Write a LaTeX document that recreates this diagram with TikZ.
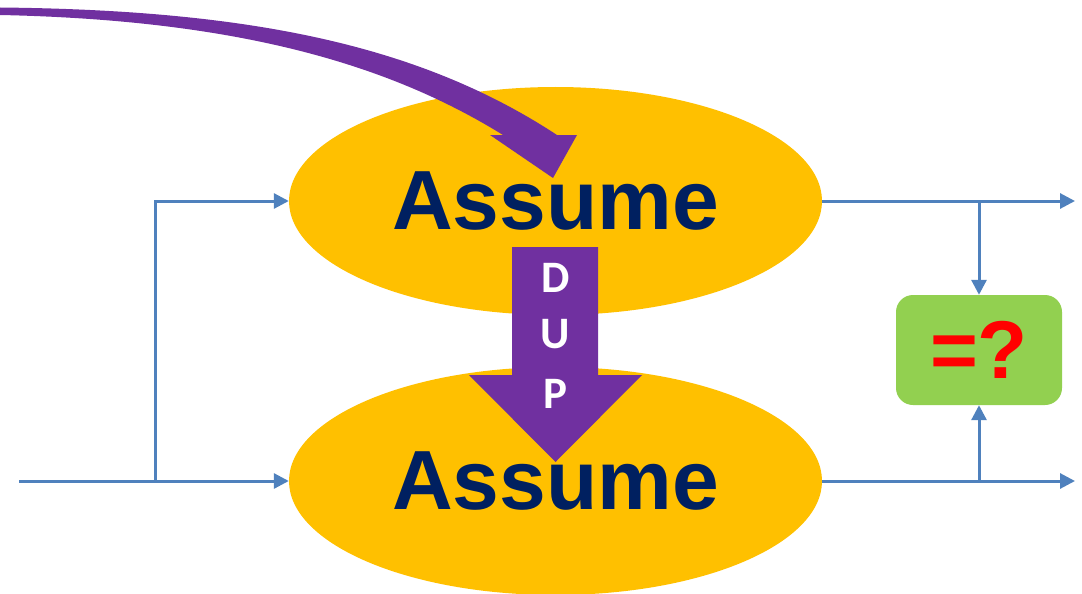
\documentclass[tikz,border=0pt]{standalone}
\usepackage{fontspec}
\setmainfont{Liberation Sans}
\newfontfamily\dupfont{Carlito}
\usetikzlibrary{shapes.geometric,arrows.meta}

\definecolor{ellgold}{HTML}{FFC000}
\definecolor{purp}{HTML}{7030A0}
\definecolor{navy}{HTML}{002060}
\definecolor{wireblue}{HTML}{4F81BD}
\definecolor{boxgreen}{HTML}{92D050}
\definecolor{qred}{HTML}{FF0000}

\tikzset{
  assumption/.style={ellipse, fill=ellgold, minimum width=533pt, minimum height=228pt,
    inner sep=0pt, text=navy, font=\fontsize{84}{84}\selectfont\bfseries},
  wire/.style={draw=wireblue, line width=3pt, -{Triangle[length=15pt,width=15pt]}},
  compare/.style={rectangle, rounded corners=17pt, fill=boxgreen, minimum width=166pt,
    minimum height=110pt, inner sep=0pt, text=qred, font=\fontsize{82}{82}\selectfont\bfseries},
  dupletter/.style={text=white, inner sep=0pt, font=\dupfont\fontsize{45}{45}\selectfont\bfseries}
}

\begin{document}
\begin{tikzpicture}[x=1pt,y=-1pt]
\clip (0,0) rectangle (1082,594);

% the two assumption stages
\node[assumption] (top) at (555.5,201) {Assume};
\node[assumption] (bot) at (555.5,481) {Assume};

% comparison box
\node[compare] (cmp) at (979,350) {=?};

% input fan-out on the left
\coordinate (in) at (19,481);
\coordinate (split) at (155,481);
\draw[wire] (in) -- (bot.west);
\draw[wire] (split) |- (top.west);

% outputs on the right and their taps into the comparison
\coordinate (outT) at (1075,201);
\coordinate (outB) at (1075,481);
\coordinate (tapT) at (979,201);
\coordinate (tapB) at (979,481);
\draw[wire] (top.east) -- (outT);
\draw[wire] (bot.east) -- (outB);
\draw[wire] (tapT) -- (cmp.north);
\draw[wire] (tapB) -- (cmp.south);

% curved incoming arrow
\fill[purp] (0,7.5) .. controls (250,10) and (420,45) .. (557,135)
  -- (577,135) -- (553,178) -- (490,135) -- (503,135)
  .. controls (390,65) and (240,20) .. (0,15) -- cycle;

% block arrow between the stages
\fill[purp] (512,247) -- (598,247) -- (598,375) -- (642,375) -- (555.5,462)
  -- (469,375) -- (512,375) -- cycle;
\node[dupletter] (dD) at (555.5,277.5) {D};
\node[dupletter] (dU) at (555.5,334) {U};
\node[dupletter] (dP) at (555.5,393.5) {P};
\end{tikzpicture}
\end{document}
